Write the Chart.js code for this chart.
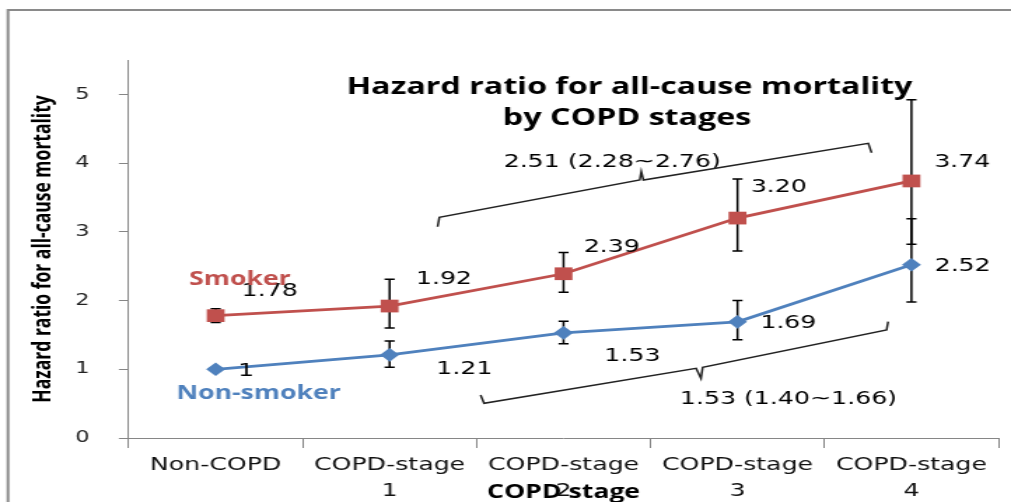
<!DOCTYPE html>
<html>
<head>
<meta charset="utf-8">
<script src="https://cdn.jsdelivr.net/npm/chart.js@4/dist/chart.umd.min.js"></script>
<style>
  html, body { margin: 0; padding: 0; background: #fff; }
  #hr { display: block; }
</style>
</head>
<body>
<!-- the source figure is a horizontally stretched Excel chart, so the canvas is drawn narrow and stretched -->
<canvas id="hr" width="722" height="502" style="width:1011px;height:502px"></canvas>
<script>
const categories = ['Non-COPD', ['COPD-stage', '1'], ['COPD-stage', '2'], ['COPD-stage', '3'], ['COPD-stage', '4']];
const smoker = [1.78, 1.92, 2.39, 3.20, 3.74];
const smokerLow = [1.68, 1.60, 2.12, 2.72, 2.82];
const smokerHigh = [1.88, 2.31, 2.70, 3.77, 4.92];
const nonSmoker = [1, 1.21, 1.53, 1.69, 2.52];
const nonSmokerLow = [null, 1.03, 1.37, 1.43, 1.98];
const nonSmokerHigh = [null, 1.41, 1.70, 2.00, 3.19];
const yTicks = [0, 1, 2, 3, 4, 5];

// overall HR texts and the braces under/over them, in (category index, HR) units
const smokerOverall = '2.51 (2.28~2.76)';
const nonSmokerOverall = '1.53 (1.40~1.66)';
const smokerBrace = [[1.276, 3.074], [1.286, 3.211], [2.438, 3.754], [2.447, 3.875], [2.459, 3.754], [3.752, 4.288], [3.771, 4.151]];
const nonSmokerBrace = [[1.523, 0.626], [1.543, 0.505], [2.762, 1.014], [2.790, 0.869], [2.800, 1.029], [3.857, 1.571], [3.866, 1.692]];
const smokerOverallAt = [2.280, 4.016];
const nonSmokerOverallAt = [3.293, 0.567];
const titleLines = ['Hazard ratio for all-cause mortality', 'by COPD stages'];
const titleAt = [[2.379, 5.10], [2.365, 4.65]];
const seriesNameAt = [[0.139, 2.30], [0.247, 0.64]];

const RED = '#C0504D';
const BLUE = '#4F81BD';

// label offsets from each point (canvas px)
const labelOffsets = [
  [[38.6, -24], [38.8, -27], [34.5, -26], [29.5, -31], [36.3, -19]],
  [[21.6, 2.5], [53.4, 14], [49.1, 23.3], [36.3, 1.3], [36.6, 2]]
];
const errorBars = [[smokerLow, smokerHigh], [nonSmokerLow, nonSmokerHigh]];

const fmt = v => Number.isInteger(v) ? String(v) : v.toFixed(2);

const annotate = {
  id: 'annotate',
  beforeDraw(chart) {
    const ctx = chart.ctx;
    ctx.save();
    ctx.fillStyle = '#fff';
    ctx.fillRect(0, 0, chart.width, chart.height);
    ctx.strokeStyle = '#8a8a8a';
    ctx.lineWidth = 2;
    ctx.beginPath();
    ctx.moveTo(5.7, chart.height);
    ctx.lineTo(5.7, 10);
    ctx.lineTo(chart.width, 10);
    ctx.stroke();
    ctx.restore();
  },
  beforeDatasetsDraw(chart) {
    const ctx = chart.ctx;
    const x = chart.scales.x, y = chart.scales.y;
    ctx.save();
    ctx.strokeStyle = '#000';
    ctx.lineWidth = 1.5;
    errorBars.forEach(([low, high]) => {
      low.forEach((lo, i) => {
        if (lo === null) return;
        const px = x.getPixelForValue(i);
        const y1 = y.getPixelForValue(lo), y2 = y.getPixelForValue(high[i]);
        ctx.beginPath();
        ctx.moveTo(px, y1); ctx.lineTo(px, y2);
        ctx.moveTo(px - 3.6, y1); ctx.lineTo(px + 3.6, y1);
        ctx.moveTo(px - 3.6, y2); ctx.lineTo(px + 3.6, y2);
        ctx.stroke();
      });
    });
    ctx.restore();
  },
  afterDraw(chart) {
    const ctx = chart.ctx;
    const x = chart.scales.x, y = chart.scales.y;
    const at = p => [x.getPixelForValue(p[0]), y.getPixelForValue(p[1])];
    ctx.save();
    ctx.textAlign = 'center';
    ctx.textBaseline = 'middle';

    // value labels
    ctx.fillStyle = '#000';
    ctx.font = '18px "DejaVu Sans"';
    chart.data.datasets.forEach((ds, d) => {
      chart.getDatasetMeta(d).data.forEach((pt, i) => {
        const [dx, dy] = labelOffsets[d][i];
        ctx.fillText(fmt(ds.data[i]), pt.x + dx, pt.y + dy);
      });
    });

    // overall estimates
    ctx.fillText(smokerOverall, ...at(smokerOverallAt));
    ctx.fillText(nonSmokerOverall, ...at(nonSmokerOverallAt));

    // braces
    ctx.strokeStyle = '#222';
    ctx.lineWidth = 1.5;
    [smokerBrace, nonSmokerBrace].forEach(br => {
      ctx.beginPath();
      br.forEach((p, i) => {
        const [px, py] = at(p);
        if (i === 0) ctx.moveTo(px, py); else ctx.lineTo(px, py);
      });
      ctx.stroke();
    });

    // series names
    ctx.font = 'bold 19px "Open Sans"';
    chart.data.datasets.forEach((ds, d) => {
      ctx.fillStyle = ds.borderColor;
      ctx.fillText(ds.label, ...at(seriesNameAt[d]));
    });

    // title
    ctx.fillStyle = '#000';
    ctx.font = 'bold 23px "Open Sans"';
    titleLines.forEach((t, i) => ctx.fillText(t, ...at(titleAt[i])));
    ctx.restore();
  }
};

new Chart(document.getElementById('hr'), {
  type: 'line',
  data: {
    labels: categories,
    datasets: [
      {
        label: 'Smoker',
        data: smoker,
        borderColor: RED,
        backgroundColor: RED,
        borderWidth: 2.8,
        pointStyle: 'rect',
        pointRadius: 9,
        pointBorderWidth: 0,
        tension: 0
      },
      {
        label: 'Non-smoker',
        data: nonSmoker,
        borderColor: BLUE,
        backgroundColor: BLUE,
        borderWidth: 2.8,
        pointStyle: 'rectRot',
        pointRadius: 6.8,
        pointBorderWidth: 0,
        tension: 0
      }
    ]
  },
  options: {
    responsive: false,
    animation: false,
    devicePixelRatio: 1,
    layout: { padding: { top: 60, right: 4.9, left: 0, bottom: 0 } },
    plugins: {
      legend: { display: false },
      tooltip: { enabled: false }
    },
    scales: {
      x: {
        offset: true,
        grid: { offset: true, drawOnChartArea: false, color: '#868686', tickLength: 10 },
        border: { color: '#868686' },
        ticks: {
          color: '#111',
          font: { family: 'DejaVu Sans', size: 18, lineHeight: 1.45 },
          padding: 4,
          maxRotation: 0,
          autoSkip: false
        },
        title: {
          display: true,
          text: 'COPD stage',
          color: '#000',
          font: { family: 'Open Sans', weight: 'bold', size: 19, lineHeight: 1.0 },
          padding: { top: 0, bottom: 0 }
        },
        afterFit: s => { s.height = 64; }
      },
      y: {
        min: 0,
        max: 5.5,
        afterBuildTicks: s => { s.ticks = yTicks.map(v => ({ value: v })); },
        grid: { drawOnChartArea: false, color: '#868686', tickLength: 7 },
        border: { color: '#868686' },
        ticks: {
          color: '#222',
          font: { family: 'DejaVu Sans', size: 16 },
          padding: 21
        },
        title: {
          display: true,
          text: 'Hazard ratio for all-cause mortality',
          color: '#000',
          font: { family: 'Open Sans', weight: 'bold', size: 17.5, lineHeight: 1.2 },
          padding: { top: 21, bottom: 0 }
        },
        afterFit: s => { s.width = 91.9; }
      }
    }
  },
  plugins: [annotate]
});
</script>
</body>
</html>
